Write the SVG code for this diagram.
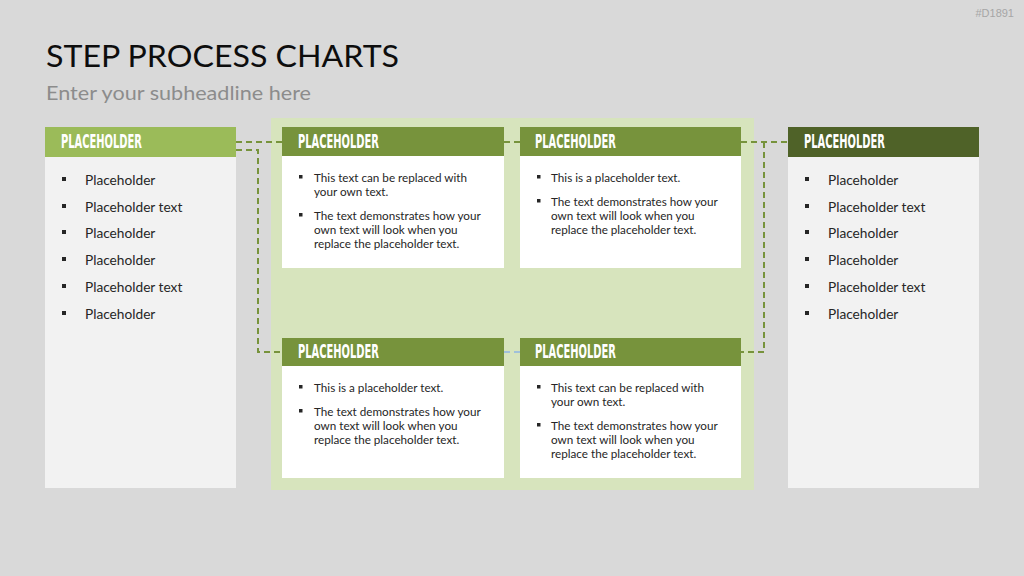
<svg xmlns="http://www.w3.org/2000/svg" width="1024" height="576" viewBox="0 0 1024 576">
  <style>
    .hdr{font-family:"Liberation Sans Narrow","DejaVu Sans Condensed","Liberation Sans",sans-serif;font-weight:bold;font-size:19px;fill:#ffffff}
    .li{font-family:Lato,"Liberation Sans",sans-serif;font-size:13.7px;fill:#262626}
    .tx{font-family:Lato,"Liberation Sans",sans-serif;font-size:11.7px;fill:#262626}
    .col{fill:#f2f2f2}
    .card{fill:#ffffff}
    .mid{fill:#77933c}
    .bul{fill:#262626}
    .dash{fill:none;stroke:#77933c;stroke-width:2;stroke-dasharray:6 4}
    .dashb{fill:none;stroke:#8eb4e3;stroke-width:1.5;stroke-dasharray:6 4}
  </style>
  <rect x="0" y="0" width="1024" height="576" fill="#d9d9d9"/>
  <text x="1014" y="17" text-anchor="end" font-family="Liberation Sans, sans-serif" font-size="11" fill="#a6a6a6">#D1891</text>
  <text x="46" y="67" font-family="Lato, 'Liberation Sans', sans-serif" font-size="31" fill="#0d0d0d" textLength="353" lengthAdjust="spacingAndGlyphs">STEP PROCESS CHARTS</text>
  <text x="46" y="100" font-family="Lato, 'Liberation Sans', sans-serif" font-size="20" fill="#8c8c8c" textLength="265" lengthAdjust="spacingAndGlyphs">Enter your subheadline here</text>

  <rect x="271" y="118" width="483" height="372" fill="#d7e4bd"/>

  <g id="connectors">
    <path class="dash" d="M236 142 H282"/>
    <path class="dash" d="M236 150 H258 V352 H282"/>
    <path class="dash" d="M504 142 H520"/>
    <path class="dashb" d="M504 352 H520"/>
    <path class="dash" d="M741 142 H788"/>
    <path class="dash" d="M764 142 V352 H741"/>
  </g>

  <g id="left-column">
    <rect class="col" x="45" y="157" width="191" height="331"/>
    <rect x="45" y="127" width="191" height="30" fill="#9bbb59"/>
    <text class="hdr" x="61" y="148" textLength="81" lengthAdjust="spacingAndGlyphs">PLACEHOLDER</text>
    <rect class="bul" x="62" y="177" width="4" height="4"/><text class="li" x="85" y="185">Placeholder</text>
    <rect class="bul" x="62" y="204" width="4" height="4"/><text class="li" x="85" y="212">Placeholder text</text>
    <rect class="bul" x="62" y="230" width="4" height="4"/><text class="li" x="85" y="238">Placeholder</text>
    <rect class="bul" x="62" y="257" width="4" height="4"/><text class="li" x="85" y="265">Placeholder</text>
    <rect class="bul" x="62" y="284" width="4" height="4"/><text class="li" x="85" y="292">Placeholder text</text>
    <rect class="bul" x="62" y="311" width="4" height="4"/><text class="li" x="85" y="319">Placeholder</text>
  </g>

  <g id="box-top-left">
    <rect class="card" x="282" y="156" width="222" height="112"/>
    <rect class="mid" x="282" y="127" width="222" height="29"/>
    <text class="hdr" x="298" y="148" textLength="81" lengthAdjust="spacingAndGlyphs">PLACEHOLDER</text>
    <rect class="bul" x="299" y="175" width="3.5" height="3.5"/>
    <text class="tx" x="314" y="182">This text can be replaced with</text>
    <text class="tx" x="314" y="196">your own text.</text>
    <rect class="bul" x="299" y="213" width="3.5" height="3.5"/>
    <text class="tx" x="314" y="220">The text demonstrates how your</text>
    <text class="tx" x="314" y="234">own text will look when you</text>
    <text class="tx" x="314" y="248">replace the placeholder text.</text>
  </g>

  <g id="box-top-right">
    <rect class="card" x="520" y="156" width="221" height="112"/>
    <rect class="mid" x="520" y="127" width="221" height="29"/>
    <text class="hdr" x="535" y="148" textLength="81" lengthAdjust="spacingAndGlyphs">PLACEHOLDER</text>
    <rect class="bul" x="537" y="175" width="3.5" height="3.5"/>
    <text class="tx" x="551" y="182">This is a placeholder text.</text>
    <rect class="bul" x="537" y="199" width="3.5" height="3.5"/>
    <text class="tx" x="551" y="206">The text demonstrates how your</text>
    <text class="tx" x="551" y="220">own text will look when you</text>
    <text class="tx" x="551" y="234">replace the placeholder text.</text>
  </g>

  <g id="box-bottom-left">
    <rect class="card" x="282" y="366" width="222" height="112"/>
    <rect class="mid" x="282" y="338" width="222" height="28"/>
    <text class="hdr" x="298" y="358" textLength="81" lengthAdjust="spacingAndGlyphs">PLACEHOLDER</text>
    <rect class="bul" x="299" y="385" width="3.5" height="3.5"/>
    <text class="tx" x="314" y="392">This is a placeholder text.</text>
    <rect class="bul" x="299" y="409" width="3.5" height="3.5"/>
    <text class="tx" x="314" y="416">The text demonstrates how your</text>
    <text class="tx" x="314" y="430">own text will look when you</text>
    <text class="tx" x="314" y="444">replace the placeholder text.</text>
  </g>

  <g id="box-bottom-right">
    <rect class="card" x="520" y="366" width="221" height="112"/>
    <rect class="mid" x="520" y="338" width="221" height="28"/>
    <text class="hdr" x="535" y="358" textLength="81" lengthAdjust="spacingAndGlyphs">PLACEHOLDER</text>
    <rect class="bul" x="537" y="385" width="3.5" height="3.5"/>
    <text class="tx" x="551" y="392">This text can be replaced with</text>
    <text class="tx" x="551" y="406">your own text.</text>
    <rect class="bul" x="537" y="423" width="3.5" height="3.5"/>
    <text class="tx" x="551" y="430">The text demonstrates how your</text>
    <text class="tx" x="551" y="444">own text will look when you</text>
    <text class="tx" x="551" y="458">replace the placeholder text.</text>
  </g>

  <g id="right-column">
    <rect class="col" x="788" y="157" width="191" height="331"/>
    <rect x="788" y="127" width="191" height="30" fill="#4f6228"/>
    <text class="hdr" x="804" y="148" textLength="81" lengthAdjust="spacingAndGlyphs">PLACEHOLDER</text>
    <rect class="bul" x="805" y="177" width="4" height="4"/><text class="li" x="828" y="185">Placeholder</text>
    <rect class="bul" x="805" y="204" width="4" height="4"/><text class="li" x="828" y="212">Placeholder text</text>
    <rect class="bul" x="805" y="230" width="4" height="4"/><text class="li" x="828" y="238">Placeholder</text>
    <rect class="bul" x="805" y="257" width="4" height="4"/><text class="li" x="828" y="265">Placeholder</text>
    <rect class="bul" x="805" y="284" width="4" height="4"/><text class="li" x="828" y="292">Placeholder text</text>
    <rect class="bul" x="805" y="311" width="4" height="4"/><text class="li" x="828" y="319">Placeholder</text>
  </g>
</svg>
